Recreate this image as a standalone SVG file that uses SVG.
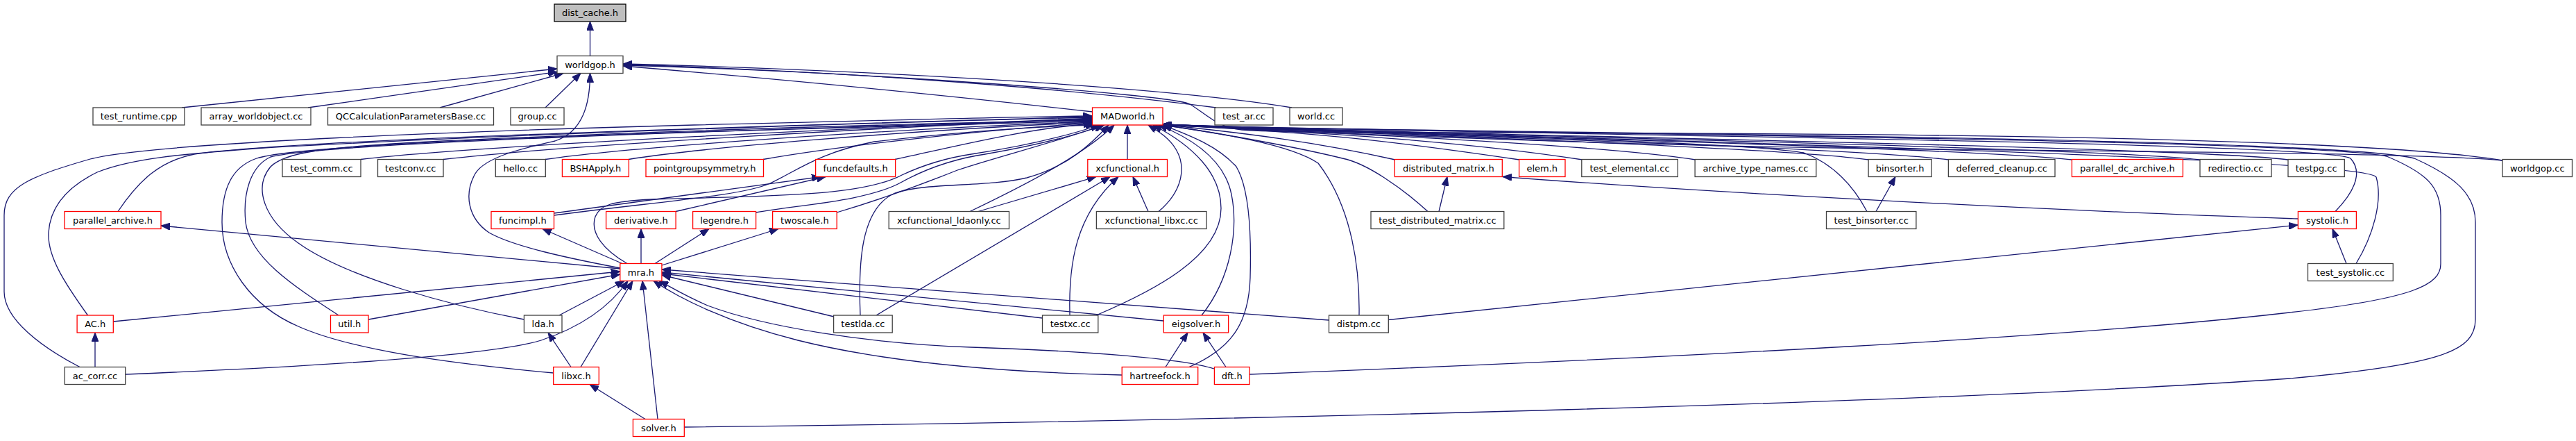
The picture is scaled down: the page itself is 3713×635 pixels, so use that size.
<svg xmlns="http://www.w3.org/2000/svg" width="3713" height="635" viewBox="0 0 3713 635">
<style>
.n rect{fill:#ffffff;stroke:#404040;stroke-width:1.3}
.r rect{fill:#ffffff;stroke:#ff0000;stroke-width:1.3}
.root rect{fill:#bfbfbf;stroke:#000000;stroke-width:1.3}
text{font-family:"DejaVu Sans","Liberation Sans",sans-serif;font-size:13px;text-anchor:middle;fill:#000000}
#edges path{fill:none;stroke:#191970;stroke-width:1.3;marker-end:url(#arr)}
</style>
<defs>
<marker id="arr" markerUnits="userSpaceOnUse" markerWidth="14" markerHeight="10" refX="13" refY="5" orient="auto">
<path d="M0,0 L13,5 L0,10 z" fill="#191970" stroke="#191970" stroke-width="1"/>
</marker>
</defs>
<rect width="3713" height="635" fill="#ffffff"/>
<g id="edges">
<path d="M850.5,80.5 L850.5,31"/>
<path d="M262,155 L803,99"/>
<path d="M444,155 L803,103.5"/>
<path d="M634,155 L812,105.5"/>
<path d="M786,155 L837,105.5"/>
<path d="M894,386 C820,372 740,355 705,335 C675,315 668,280 685,250 C700,225 760,212 800,203 C840,190 850.5,150 850.5,105.5"/>
<path d="M1575,161 C1300,130 1100,112 898,95"/>
<path d="M1753,155 C1500,122 1150,100 898,93"/>
<path d="M1862,155 C1650,120 1150,98 898,92"/>
<path d="M3607,231 C3450,205 3000,194 2400,192 C2100,190 1850,192 1790,187 C1755,184 1740,165 1715,150 C1690,136 1250,104 898,94"/>
<path d="M115,528.5 C60,500 6,460 6,420 L6,310 C6,270 40,255 130,229 C220,205 700,188 1000,180 C1300,173 1450,168 1574.5,167"/>
<path d="M170,304.5 C200,260 230,232 280,222 C400,205 800,190 1574.5,168"/>
<path d="M126.5,454 C95,410 68,370 70,335 C72,300 95,270 140,248 C190,228 260,222 380,213 C700,195 1200,178 1574.5,169"/>
<path d="M488,454 C420,410 360,370 354,320 C350,280 360,240 390,226 C450,210 800,195 1574.5,172"/>
<path d="M755.4,460 C650,440 500,400 430,350 C380,315 365,270 390,240 C410,220 460,213 600,205 C900,190 1300,178 1574.5,173"/>
<path d="M797.7,537 C700,528 520,510 430,470 C360,440 320,380 320,320 C320,270 335,240 370,228 C420,212 700,200 1000,190 C1300,180 1450,176 1574.5,174"/>
<path d="M520,229.5 C700,208 1300,182 1574.5,170"/>
<path d="M639,229.5 C800,210 1300,182 1574.5,171"/>
<path d="M786,229.5 C900,212 1300,185 1574.5,175"/>
<path d="M906,229.5 C1000,214 1300,188 1574.5,176"/>
<path d="M1100,229.5 C1200,212 1400,188 1574.5,177"/>
<path d="M1290,229.5 C1380,210 1480,185 1574.5,178"/>
<path d="M798.5,307 L1183,254.5"/>
<path d="M974,304.5 L1190,254.5"/>
<path d="M798.5,310 C950,290 1070,282 1110,264 C1150,245 1180,220 1260,204 C1400,188 1500,182 1578,180"/>
<path d="M904,379.5 C870,360 850,335 858,312 C865,295 880,290 940,287 C1100,282 1240,284 1300,252 C1330,238 1360,228 1400,222 C1480,210 1540,195 1585,180"/>
<path d="M1089.5,306 C1150,295 1250,290 1300,262 C1340,240 1380,228 1420,222 C1490,210 1550,195 1590,180"/>
<path d="M1206,306 C1260,290 1330,265 1380,245 C1430,228 1520,205 1592,180"/>
<path d="M1240,454 C1237,380 1240,300 1290,278 C1340,262 1420,270 1480,256 C1540,240 1575,205 1598,180"/>
<path d="M1263,454 L1600,254.5"/>
<path d="M1202,456 L954,396"/>
<path d="M1398,304.5 C1470,270 1560,225 1606,180"/>
<path d="M1410,304.5 L1580,254.5"/>
<path d="M1625,229.5 L1625,180"/>
<path d="M1655,304.5 L1633,254.5"/>
<path d="M1670,304.5 C1705,275 1710,240 1695,215 C1685,198 1668,188 1655,180"/>
<path d="M1542,454 C1540,380 1550,310 1612,254.5"/>
<path d="M1580,454 C1660,420 1760,370 1760,300 C1760,250 1720,210 1662,180"/>
<path d="M1502.5,458 L954,394"/>
<path d="M1732,454 C1775,400 1785,330 1775,280 C1765,230 1720,200 1670,180"/>
<path d="M1714,528.5 C1780,500 1800,460 1802,400 C1804,330 1800,270 1782,240 C1755,210 1715,195 1676,180"/>
<path d="M1680,528.5 L1712,479"/>
<path d="M1767,528.5 L1734,479"/>
<path d="M1677,462 L954,392"/>
<path d="M1617,540 C1400,535 1250,515 1150,490 C1050,465 980,430 942,404.5"/>
<path d="M1750,531 C1700,515 1550,505 1400,500 C1250,495 1100,470 1020,440 C985,425 965,412 950,404.5"/>
<path d="M1915.5,461 C1700,445 1300,415 954,388"/>
<path d="M897,379.5 L782,329.5"/>
<path d="M924,379.5 L924,329.5"/>
<path d="M944,379.5 L1022,329.5"/>
<path d="M953.9,382 L1122,329.5"/>
<path d="M893.8,387 L232,325"/>
<path d="M163,463 L893.8,391"/>
<path d="M531,460 L893.8,395"/>
<path d="M806,454 L900,404.5"/>
<path d="M180.7,539 C400,530 700,515 780,490 C840,470 880,440 905,404.5"/>
<path d="M837,528.5 L912,404.5"/>
<path d="M823,528.5 L790,479"/>
<path d="M930,603.5 L850,553.5"/>
<path d="M948,603.5 L926,404.5"/>
<path d="M137,528.5 L137,479"/>
<path d="M2011,230 C1900,205 1800,192 1676,179.5"/>
<path d="M2190,230 C2000,202 1900,191 1676,179.5"/>
<path d="M2281,230 C2100,202 1900,191 1676,179.5"/>
<path d="M2058,304.5 C2020,270 1970,235 1935,228 C1870,212 1760,192 1676,180"/>
<path d="M1959,454 C1960,390 1950,300 1900,235 C1860,208 1760,192 1676,180"/>
<path d="M1801,539 C2400,516 3000,485 3300,450 C3480,430 3518,410 3518,380 L3518,310 C3518,270 3500,250 3440,225 C3300,197 1900,191 1676,179"/>
<path d="M986,615 C1800,606 2800,580 3300,545 C3520,525 3568,505 3568,460 L3568,320 C3568,280 3540,255 3480,228 C3350,194 1900,191 1676,179"/>
<path d="M3366,304.5 C3390,280 3408,250 3388,228 C3350,202 1900,191 1676,179"/>
<path d="M3396,379.5 C3420,340 3435,290 3425,255 C3410,222 1900,192 1676,179"/>
<path d="M3382,379.5 L3362,329.5"/>
<path d="M3312,315 C3000,305 2500,280 2166,254.5"/>
<path d="M2001,460.5 L3312,324"/>
<path d="M2704,304.5 L2732,254.5"/>
<path d="M2691,304.5 C2670,265 2640,235 2600,220 C2500,202 1900,191 1676,179.5"/>
<path d="M2694,230 C2550,210 1900,191 1676,179.5"/>
<path d="M2444,230 C2300,207 1900,191 1676,179.5"/>
<path d="M2809,230 C2650,210 1900,191 1676,179.5"/>
<path d="M2987,230 C2800,210 1900,191 1676,179"/>
<path d="M3171,230 C3000,210 1900,191 1676,179"/>
<path d="M3298,230 C3150,210 1900,191 1676,179"/>
<path d="M3607,231 C3500,221 3100,218 2700,214 C2300,208 1900,192 1676,179"/>
<path d="M2074,304.5 L2086,254.5"/>
</g>
<g id="dist_cache_h" class="root"><rect x="799" y="6" width="103" height="25"/><text x="850.5" y="23">dist_cache.h</text></g>
<g id="worldgop_h" class="n"><rect x="803" y="80.5" width="95" height="25"/><text x="850.5" y="97.5">worldgop.h</text></g>
<g id="test_runtime_cpp" class="n"><rect x="134" y="155" width="132" height="25"/><text x="200" y="172">test_runtime.cpp</text></g>
<g id="array_worldobject_cc" class="n"><rect x="290" y="155" width="158" height="25"/><text x="369" y="172">array_worldobject.cc</text></g>
<g id="QCCalculationParametersBase_cc" class="n"><rect x="472.5" y="155" width="239" height="25"/><text x="592" y="172">QCCalculationParametersBase.cc</text></g>
<g id="group_cc" class="n"><rect x="736" y="155" width="77" height="25"/><text x="774.5" y="172">group.cc</text></g>
<g id="MADworld_h" class="r"><rect x="1574.5" y="155" width="101.5" height="25"/><text x="1625.2" y="172">MADworld.h</text></g>
<g id="test_ar_cc" class="n"><rect x="1751" y="155" width="84" height="25"/><text x="1793" y="172">test_ar.cc</text></g>
<g id="world_cc" class="n"><rect x="1859" y="155" width="76" height="25"/><text x="1897" y="172">world.cc</text></g>
<g id="test_comm_cc" class="n"><rect x="407" y="229.5" width="113" height="25"/><text x="463.5" y="246.5">test_comm.cc</text></g>
<g id="testconv_cc" class="n"><rect x="544.5" y="229.5" width="94.5" height="25"/><text x="591.8" y="246.5">testconv.cc</text></g>
<g id="hello_cc" class="n"><rect x="714.3" y="229.5" width="72" height="25"/><text x="750.3" y="246.5">hello.cc</text></g>
<g id="BSHApply_h" class="r"><rect x="810.4" y="229.5" width="96" height="25"/><text x="858.4" y="246.5">BSHApply.h</text></g>
<g id="pointgroupsymmetry_h" class="r"><rect x="931" y="229.5" width="169.5" height="25"/><text x="1015.8" y="246.5">pointgroupsymmetry.h</text></g>
<g id="funcdefaults_h" class="r"><rect x="1175.6" y="229.5" width="115" height="25"/><text x="1233.1" y="246.5">funcdefaults.h</text></g>
<g id="xcfunctional_h" class="r"><rect x="1567.8" y="229.5" width="114.7" height="25"/><text x="1625.2" y="246.5">xcfunctional.h</text></g>
<g id="distributed_matrix_h" class="r"><rect x="2010.3" y="229.5" width="155" height="25"/><text x="2087.8" y="246.5">distributed_matrix.h</text></g>
<g id="elem_h" class="r"><rect x="2189.6" y="229.5" width="66.4" height="25"/><text x="2222.8" y="246.5">elem.h</text></g>
<g id="test_elemental_cc" class="n"><rect x="2279.8" y="229.5" width="138.5" height="25"/><text x="2349" y="246.5">test_elemental.cc</text></g>
<g id="archive_type_names_cc" class="n"><rect x="2443.1" y="229.5" width="174.7" height="25"/><text x="2530.4" y="246.5">archive_type_names.cc</text></g>
<g id="binsorter_h" class="n"><rect x="2693.1" y="229.5" width="91" height="25"/><text x="2738.6" y="246.5">binsorter.h</text></g>
<g id="deferred_cleanup_cc" class="n"><rect x="2808.4" y="229.5" width="153.6" height="25"/><text x="2885.2" y="246.5">deferred_cleanup.cc</text></g>
<g id="parallel_dc_archive_h" class="r"><rect x="2986.4" y="229.5" width="160" height="25"/><text x="3066.4" y="246.5">parallel_dc_archive.h</text></g>
<g id="redirectio_cc" class="n"><rect x="3171" y="229.5" width="103" height="25"/><text x="3222.5" y="246.5">redirectio.cc</text></g>
<g id="testpg_cc" class="n"><rect x="3298" y="229.5" width="81.3" height="25"/><text x="3338.7" y="246.5">testpg.cc</text></g>
<g id="worldgop_cc" class="n"><rect x="3607" y="229.5" width="100.5" height="25"/><text x="3657.3" y="246.5">worldgop.cc</text></g>
<g id="parallel_archive_h" class="r"><rect x="93" y="304.5" width="139" height="25"/><text x="162.5" y="321.5">parallel_archive.h</text></g>
<g id="funcimpl_h" class="r"><rect x="708" y="304.5" width="90.5" height="25"/><text x="753.3" y="321.5">funcimpl.h</text></g>
<g id="derivative_h" class="r"><rect x="873.6" y="304.5" width="100.5" height="25"/><text x="923.9" y="321.5">derivative.h</text></g>
<g id="legendre_h" class="r"><rect x="998.6" y="304.5" width="91" height="25"/><text x="1044.1" y="321.5">legendre.h</text></g>
<g id="twoscale_h" class="r"><rect x="1113.6" y="304.5" width="92.6" height="25"/><text x="1159.9" y="321.5">twoscale.h</text></g>
<g id="xcfunctional_ldaonly_cc" class="n"><rect x="1281.2" y="304.5" width="173.3" height="25"/><text x="1367.9" y="321.5">xcfunctional_ldaonly.cc</text></g>
<g id="xcfunctional_libxc_cc" class="n"><rect x="1580.4" y="304.5" width="158.6" height="25"/><text x="1659.7" y="321.5">xcfunctional_libxc.cc</text></g>
<g id="test_distributed_matrix_cc" class="n"><rect x="1976" y="304.5" width="191.8" height="25"/><text x="2071.9" y="321.5">test_distributed_matrix.cc</text></g>
<g id="test_binsorter_cc" class="n"><rect x="2632.5" y="304.5" width="129.4" height="25"/><text x="2697.2" y="321.5">test_binsorter.cc</text></g>
<g id="systolic_h" class="r"><rect x="3312.4" y="304.5" width="84" height="25"/><text x="3354.4" y="321.5">systolic.h</text></g>
<g id="mra_h" class="r"><rect x="893.8" y="379.5" width="60.1" height="25"/><text x="923.9" y="396.5">mra.h</text></g>
<g id="test_systolic_cc" class="n"><rect x="3326.5" y="379.5" width="122.8" height="25"/><text x="3387.9" y="396.5">test_systolic.cc</text></g>
<g id="AC_h" class="r"><rect x="111.1" y="454" width="52.2" height="25"/><text x="137.2" y="471">AC.h</text></g>
<g id="util_h" class="r"><rect x="476.5" y="454" width="54.5" height="25"/><text x="503.8" y="471">util.h</text></g>
<g id="lda_h" class="n"><rect x="755.4" y="454" width="54.6" height="25"/><text x="782.7" y="471">lda.h</text></g>
<g id="testlda_cc" class="n"><rect x="1201.6" y="454" width="84.6" height="25"/><text x="1243.9" y="471">testlda.cc</text></g>
<g id="testxc_cc" class="n"><rect x="1502.5" y="454" width="80.3" height="25"/><text x="1542.7" y="471">testxc.cc</text></g>
<g id="eigsolver_h" class="r"><rect x="1677.3" y="454" width="93.3" height="25"/><text x="1724" y="471">eigsolver.h</text></g>
<g id="distpm_cc" class="n"><rect x="1915.5" y="454" width="85.8" height="25"/><text x="1958.4" y="471">distpm.cc</text></g>
<g id="ac_corr_cc" class="n"><rect x="93.3" y="528.5" width="87.4" height="25"/><text x="137" y="545.5">ac_corr.cc</text></g>
<g id="libxc_h" class="r"><rect x="797.7" y="528.5" width="65.6" height="25"/><text x="830.5" y="545.5">libxc.h</text></g>
<g id="hartreefock_h" class="r"><rect x="1617.2" y="528.5" width="109.5" height="25"/><text x="1672" y="545.5">hartreefock.h</text></g>
<g id="dft_h" class="r"><rect x="1750.4" y="528.5" width="50.6" height="25"/><text x="1775.7" y="545.5">dft.h</text></g>
<g id="solver_h" class="r"><rect x="912.4" y="603.5" width="73.9" height="25"/><text x="949.4" y="620.5">solver.h</text></g>
</svg>
